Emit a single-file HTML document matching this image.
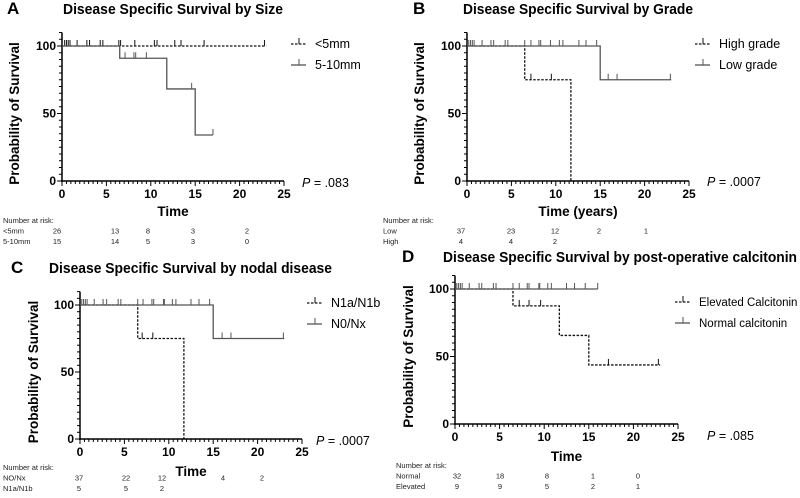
<!DOCTYPE html>
<html><head><meta charset="utf-8">
<style>
html,body{margin:0;padding:0;background:#fff;}
svg{display:block;font-family:"Liberation Sans",Arial,sans-serif;}
</style></head>
<body>
<svg id="fig" width="800" height="498" viewBox="0 0 800 498"></svg>
<script>
// ---- data ----
const xTicks = [0,5,10,15,20,25];
const yTicks = [0,50,100];
// Panel A
const aTimes1 = [0,23];            const aSurv1 = [100];
const aCens1 = [0.3,0.5,0.7,0.9,1.7,2.8,3.1,4.3,4.6,6.4,6.6,8.2,10.4,10.7,12.7,13.4,16,22.8];
const aTimes2 = [0,6.5,11.8,15,17]; const aSurv2 = [100,90.9,68.2,34.1];
const aCens2 = [7.1,8.1,8.3,9.5,14.6,17];
const aRisk1 = ["26","13","8","3","2"]; const aRisk2 = ["15","14","5","3","0"];
// Panel B
const bTimes1 = [0,6.5,11.7,11.7]; const bSurv1 = [100,75,0];
const bCens1 = [7.2,9.5];
const bTimes2 = [0,15,23]; const bSurv2 = [100,75];
const bCens2 = [0.2,0.4,0.6,0.8,1.7,2.7,3.0,4.3,4.6,6.5,7.2,8.1,8.3,9.4,10.4,10.8,12.6,13.4,14.6,15.9,16.9,22.9];
const bRisk1 = ["37","23","12","2","1"]; const bRisk2 = ["4","4","2"];
// Panel C
const cTimes1 = [0,6.5,11.7,11.7]; const cSurv1 = [100,75,0];
const cCens1 = [7.0,8.2];
const cTimes2 = [0,15,23]; const cSurv2 = [100,75];
const cCens2 = [0.2,0.4,0.6,0.8,1.6,2.6,3.0,4.3,4.6,6.5,7.1,8.1,8.3,9.4,9.5,10.4,10.8,12.5,13.4,14.6,16,17,22.9];
const cRisk1 = ["37","22","12","4","2"]; const cRisk2 = ["5","5","2"];
// Panel D
const dTimes1 = [0,6.5,11.7,15,23]; const dSurv1 = [100,87.5,65.6,43.75];
const dCens1 = [7.2,8.3,9.6,17.2,22.8];
const dTimes2 = [0,16]; const dSurv2 = [100];
const dCens2 = [0.2,0.4,0.6,0.8,1.6,2.7,3.0,4.3,4.6,6.5,7.2,8.1,8.3,9.4,9.5,10.4,10.8,12.5,13.4,14.6,16];
const dRisk1 = ["32","18","8","1","0"]; const dRisk2 = ["9","9","5","2","1"];

const NS = "http://www.w3.org/2000/svg";
const svg = document.getElementById('fig');
function mk(tag, attrs, parent, txt){
  const e = document.createElementNS(NS, tag);
  for (const k in attrs) e.setAttribute(k, attrs[k]);
  if (txt !== undefined) e.textContent = txt;
  (parent||svg).appendChild(e);
  return e;
}

function panel(p){
  const g = mk('g', {});
  
  
  const X = t => p.x0 + t * (p.x25 - p.x0) / 25;
  const Y = v => p.y0 - v * (p.y0 - p.y100) / 100;
  let t;
  t = mk('text', {x:p.lx, y:p.ly, 'font-size':17, 'font-weight':'bold'}, g, p.id);
   
  t = mk('text', {x:p.tx, y:p.ly, 'font-size':14.5, 'font-weight':'bold', textLength:p.tw, lengthAdjust:'spacingAndGlyphs'}, g, p.title);
   
  const ax = mk('g', {stroke:'#000', 'stroke-width':1.5, fill:'none'}, g);
   
  mk('line', {x1:X(0), y1:Y(110), x2:X(0), y2:Y(0)+1}, ax);
  mk('line', {x1:X(0)-1, y1:Y(0), x2:X(25), y2:Y(0)}, ax);
  for (let v = 0; v <= 25.01; v += 0.5) {
    const major = Math.abs(v % 5) < 0.01;
    mk('line', {x1:X(v), y1:Y(0), x2:X(v), y2:Y(0) + (major ? 5 : 3), 'stroke-width':1}, ax);
  }
  for (let v = 0; v <= 110; v += 5) {
    const major = v % 50 === 0;
    mk('line', {x1:X(0), y1:Y(v), x2:X(0) - (major ? 5 : 3), y2:Y(v), 'stroke-width':1}, ax);
  }
  xTicks.forEach(v => {
    const e = mk('text', {x:X(v), y:Y(0)+17, 'font-size':12, 'font-weight':'bold', 'text-anchor':'middle'}, g, String(v));
     
  });
  yTicks.forEach(v => {
    const e = mk('text', {x:X(0)-6, y:Y(v)+4, 'font-size':12, 'font-weight':'bold', 'text-anchor':'end'}, g, String(v));
     
  });
  t = mk('text', {x:p.ytx, y:(Y(0)+Y(100))/2, 'font-size':13.5, 'font-weight':'bold', 'text-anchor':'middle', transform:`rotate(-90 ${p.ytx} ${(Y(0)+Y(100))/2})`}, g, 'Probability of Survival');
   
  t = mk('text', {x:(X(0)+X(25))/2, y:p.xty, 'font-size':13.5, 'font-weight':'bold', 'text-anchor':'middle'}, g, p.xtitle);
   
  p.series.forEach((s, si) => {
    let d = `M${X(s.times[0])},${Y(s.surv[0])}`;
    for (let i = 1; i < s.times.length; i++) {
      d += ` H${X(s.times[i])}`;
      if (i < s.surv.length) d += ` V${Y(s.surv[i])}`;
    }
    const path = mk('path', {d:d, fill:'none', stroke:s.dash ? '#111' : '#555', 'stroke-width':1.3, 'stroke-dasharray':s.dash ? '2.5,1.5' : 'none'}, g);
    
    
    s.cens.forEach(c => {
      let k = 0;
      for (let i = 1; i < s.times.length && i < s.surv.length; i++) if (c >= s.times[i]) k = i;
      const v = s.surv[k];
      const tk = mk('line', {x1:X(c), y1:Y(v), x2:X(c), y2:Y(v)-6, stroke:s.dash ? '#111' : '#555', 'stroke-width':1}, g);
      
      
    });
    const ly = p.legY + si * 21;
    const lg = mk('g', {}, g);
    
    
    mk('line', {x1:p.legX, y1:ly, x2:p.legX+15, y2:ly, stroke:s.dash?'#111':'#555', 'stroke-width':1.3, 'stroke-dasharray':s.dash?'2.5,1.5':'none'}, lg);
    mk('line', {x1:p.legX+8, y1:ly, x2:p.legX+8, y2:ly-6, stroke:s.dash?'#111':'#555', 'stroke-width':1}, lg);
    mk('text', {x:p.legX+24, y:ly+4, 'font-size':p.legFs || 12.5}, lg, s.label);
  });
  const pv = mk('text', {x:p.px, y:p.py, 'font-size':12.5}, g);
   
  mk('tspan', {'font-style':'italic'}, pv, 'P');
  mk('tspan', {}, pv, ' = ' + p.pval);
  const rt = mk('g', {'font-size':7.5, fill:'#222'}, g);
   
  mk('text', {x:p.rx, y:p.ry}, rt, 'Number at risk:');
  p.rows.forEach((r, ri) => {
    const yy = p.ry + 10.5 * (ri + 1);
    mk('text', {x:p.rx, y:yy}, rt, r.label);
    r.vals.forEach((v, ci) => mk('text', {x:p.cols[ci], y:yy, 'text-anchor':'middle'}, rt, v));
  });
}

panel({id:'A', title:'Disease Specific Survival by Size', lx:7, tx:63, tw:220, ly:14,
  x0:62, x25:284, y0:181, y100:46, ytx:19, xty:216, xtitle:'Time',
  series:[{key:'lt5mm', times:aTimes1, surv:aSurv1, cens:aCens1, dash:true, label:'<5mm'},
          {key:'5-10mm', times:aTimes2, surv:aSurv2, cens:aCens2, dash:false, label:'5-10mm'}],
  legX:291, legY:44, px:302, py:187, pval:'.083',
  rx:3, ry:223, cols:[57,115,148,193,247],
  rows:[{label:'<5mm', vals:aRisk1},{label:'5-10mm', vals:aRisk2}]});
panel({id:'B', title:'Disease Specific Survival by Grade', lx:413, tx:463, tw:230, ly:14,
  x0:467, x25:689, y0:181, y100:46, ytx:424, xty:216, xtitle:'Time (years)',
  series:[{key:'high-grade', times:bTimes1, surv:bSurv1, cens:bCens1, dash:true, label:'High grade'},
          {key:'low-grade', times:bTimes2, surv:bSurv2, cens:bCens2, dash:false, label:'Low grade'}],
  legX:695, legY:44, px:707, py:186, pval:'.0007',
  rx:383, ry:223, cols:[461,511,555,599,646],
  rows:[{label:'Low', vals:bRisk1},{label:'High', vals:bRisk2}]});
panel({id:'C', title:'Disease Specific Survival by nodal disease', lx:11, tx:49, tw:283, ly:273,
  x0:80, x25:302, y0:439, y100:305, ytx:38, xty:476, xtitle:'Time',
  series:[{key:'n1a-n1b', times:cTimes1, surv:cSurv1, cens:cCens1, dash:true, label:'N1a/N1b'},
          {key:'n0-nx', times:cTimes2, surv:cSurv2, cens:cCens2, dash:false, label:'N0/Nx'}],
  legX:307, legY:303, px:316, py:445, pval:'.0007',
  rx:3, ry:470, cols:[79,126,162,223,262],
  rows:[{label:'NO/Nx', vals:cRisk1},{label:'N1a/N1b', vals:cRisk2}]});
panel({id:'D', title:'Disease Specific Survival by post-operative calcitonin', lx:402, tx:443, tw:354, ly:262,
  x0:455, x25:678, y0:424, y100:289, ytx:413, xty:461, xtitle:'Time',
  series:[{key:'elevated-calcitonin', times:dTimes1, surv:dSurv1, cens:dCens1, dash:true, label:'Elevated Calcitonin'},
          {key:'normal-calcitonin', times:dTimes2, surv:dSurv2, cens:dCens2, dash:false, label:'Normal calcitonin'}],
  legX:675, legY:302, legFs:11.5, px:707, py:440, pval:'.085',
  rx:396, ry:468, cols:[457,500,547,593,638],
  rows:[{label:'Normal', vals:dRisk1},{label:'Elevated', vals:dRisk2}]});
</script>
</body></html>
